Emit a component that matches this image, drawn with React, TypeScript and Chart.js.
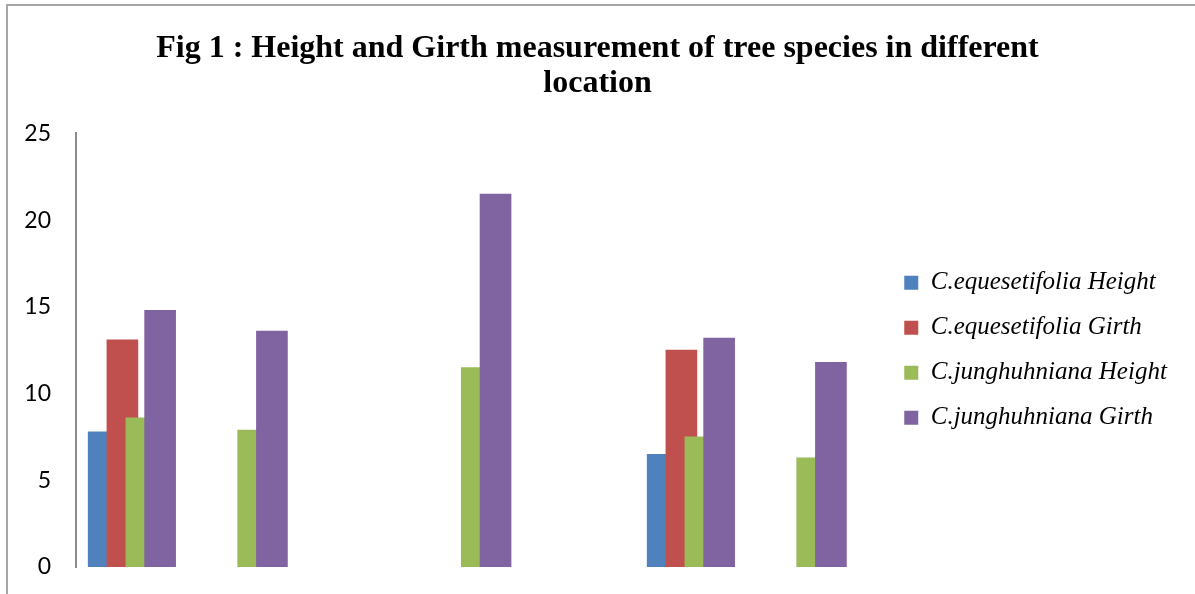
import React, { useEffect, useRef } from "react";
import { Chart, registerables } from "chart.js";

Chart.register(...registerables);

// ---- Data ----
const categories = ["Location 1", "Location 2", "Location 3", "Location 4", "Location 5", "Location 6", "Location 7"];
const seriesNames = [
  "C.equesetifolia Height",
  "C.equesetifolia Girth",
  "C.junghuhniana Height",
  "C.junghuhniana Girth",
];
const ceqHeight: (number | null)[] = [7.8, null, null, null, null, 6.5, null];
const ceqGirth: (number | null)[] = [13.1, null, null, null, null, 12.5, null];
const cjuHeight: (number | null)[] = [8.6, 7.9, null, 11.5, null, 7.5, 6.3];
const cjuGirth: (number | null)[] = [14.8, 13.6, null, 21.5, null, 13.2, 11.8];
const yTicks = [0, 5, 10, 15, 20, 25];
const titleLines = ["Fig 1 : Height and Girth measurement of tree species in different", "location"];

// ---- Style / layout ----
const colors = ["#4F81BD", "#C0504D", "#9BBB59", "#8064A2"];
const barOffsets = [-0.2525, -0.085, 0.085, 0.2525]; // within a category (overlapping bars)
const CATEGORY_PX = 111.8;

const framePlugin = {
  id: "frame",
  afterDraw(chart: any) {
    const ctx = chart.ctx;
    ctx.save();
    ctx.strokeStyle = "#A6A6A6";
    ctx.lineWidth = 2;
    ctx.beginPath();
    ctx.moveTo(6, 5);
    ctx.lineTo(1195, 5);
    ctx.moveTo(7, 4);
    ctx.lineTo(7, 594);
    ctx.stroke();
    ctx.restore();
  },
};

export default function App() {
  const ref = useRef<HTMLCanvasElement>(null);

  useEffect(() => {
    if (!ref.current) return;
    const all = [ceqHeight, ceqGirth, cjuHeight, cjuGirth];
    const datasets = all.map((vals, k) => ({
      label: seriesNames[k],
      data: vals
        .map((v, i) => (v === null ? null : { x: i + barOffsets[k], y: v }))
        .filter((p) => p !== null),
      backgroundColor: colors[k],
      borderWidth: 0,
      grouped: false,
      barThickness: 31,
      order: 3 - k,
    }));

    const setX = (s: any) => {
      s.min = -0.5;
      s.max = -0.5 + s.width / CATEGORY_PX;
    };

    const chart = new Chart(ref.current, {
      type: "bar",
      data: { labels: categories, datasets: datasets as any },
      plugins: [framePlugin],
      options: {
        animation: false,
        responsive: false,
        layout: { padding: { left: 24, right: 24, top: 0, bottom: 27 } },
        plugins: {
          tooltip: { enabled: false },
          title: {
            display: true,
            text: titleLines,
            color: "#000",
            font: { family: "'Liberation Serif', 'Times New Roman', serif", size: 32, weight: "bold", lineHeight: 1.1 },
            padding: { top: 31, bottom: 32 },
          },
          legend: {
            position: "right",
            align: "center",
            fullSize: false,
            labels: {
              boxWidth: 14,
              boxHeight: 14,
              padding: 20,
              color: "#000",
              font: { family: "'Liberation Serif', 'Times New Roman', serif", size: 25, style: "italic" },
              sort: (a: any, b: any) => a.datasetIndex - b.datasetIndex,
            },
          },
        },
        scales: {
          x: {
            type: "linear",
            display: false,
            offset: false,
            bounds: "data",
            afterDataLimits: setX,
            afterBuildTicks: setX,
          },
          y: {
            min: yTicks[0],
            max: yTicks[yTicks.length - 1],
            grid: { display: false, drawTicks: false },
            border: { display: true, color: "#8C8C8C", width: 2 },
            afterFit: (s: any) => {
              s.width = 52;
              s.paddingTop = 0;
              s.paddingBottom = 0;
            },
            afterBuildTicks: (s: any) => {
              s.ticks = yTicks.map((v) => ({ value: v }));
            },
            ticks: {
              padding: 25,
              color: "#000",
              font: { family: "Lato, 'Open Sans', sans-serif", size: 23 },
            },
          },
        },
      } as any,
    });
    return () => chart.destroy();
  }, []);

  return (
    <div style={{ position: "fixed", left: 0, top: 0, width: 1195, height: 594, background: "#fff" }}>
      <canvas ref={ref} width={1195} height={594} style={{ display: "block" }} />
    </div>
  );
}
